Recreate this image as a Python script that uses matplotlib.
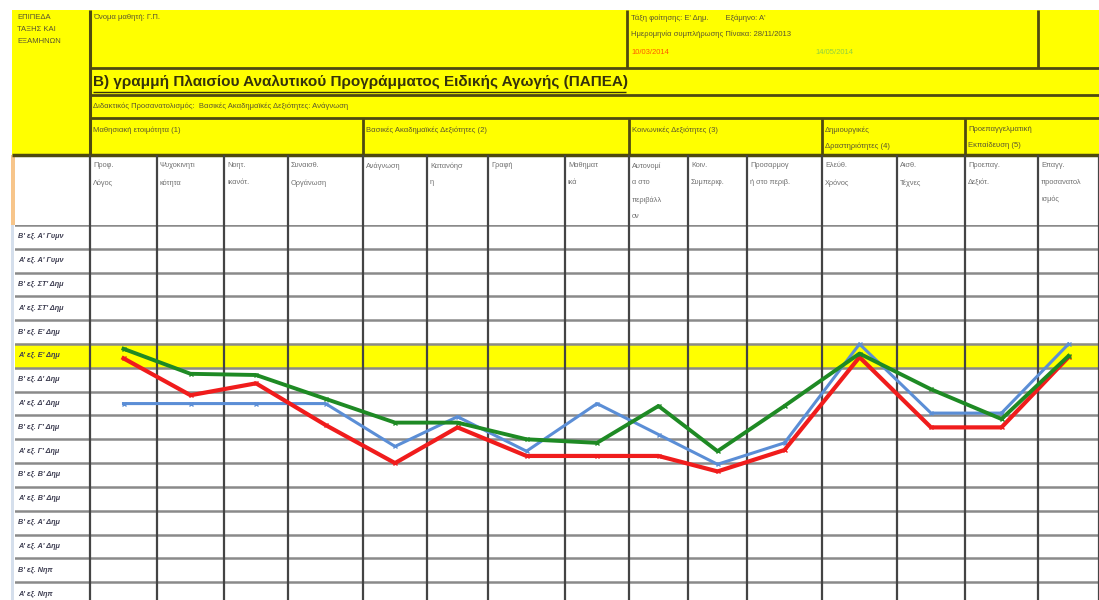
import matplotlib.pyplot as plt
from matplotlib.patches import Rectangle

plt.rcParams['font.family'] = ['Liberation Sans', 'DejaVu Sans']

# στήλες (δεξιότητες) και επίπεδα
στηλες = ["Προφ.\nΛόγος", "Ψυχοκινητι\nκότητα", "Νοητ.\nικανότ.", "Συναισθ.\nΟργάνωση",
          "Ανάγνωση", "Κατανόησ\nη", "Γραφή", "Μαθηματ\nικά",
          "Αυτονομί\nα στο\nπεριβάλλ\nον", "Κοιν.\nΣυμπεριφ.", "Προσαρμογ\nή στο περιβ.",
          "Ελεύθ.\nΧρόνος", "Αισθ.\nΤέχνες", "Προεπαγ.\nΔεξιότ.", "Επαγγ.\nπροσανατολ\nισμός"]

επιπεδα = ["Α' εξ. Νηπ", "Β' εξ. Νηπ", "Α' εξ. Α' Δημ", "Β' εξ. Α' Δημ",
           "Α' εξ. Β' Δημ", "Β' εξ. Β' Δημ", "Α' εξ. Γ' Δημ", "Β' εξ. Γ' Δημ",
           "Α' εξ. Δ' Δημ", "Β' εξ. Δ' Δημ", "Α' εξ. Ε' Δημ", "Β' εξ. Ε' Δημ",
           "Α' εξ. ΣΤ' Δημ", "Β' εξ. ΣΤ' Δημ", "Α' εξ. Α' Γυμν", "Β' εξ. Α' Γυμν"]

ομαδες = ["Μαθησιακή ετοιμότητα (1)", "Βασικές Ακαδημαϊκές Δεξιότητες (2)",
          "Κοινωνικές Δεξιότητες (3)", "Δημιουργικές\nΔραστηριότητες (4)",
          "Προεπαγγελματική\nΕκπαίδευση (5)"]

ημερομηνιες = ["28/11/2013", "10/03/2014", "14/05/2014"]

# επίπεδο ανά στήλη για κάθε αξιολόγηση
τιμες_1 = [8, 8, 8, 8, 6.2, 7.45, 6.0, 8.0, 6.7, 5.45, 6.35, 10.5, 7.6, 7.6, 10.5]
τιμες_2 = [9.9, 8.35, 8.85, 7.1, 5.5, 7.0, 5.8, 5.8, 5.8, 5.15, 6.05, 9.95, 7.0, 7.0, 9.95]
τιμες_3 = [10.3, 9.25, 9.2, 8.2, 7.2, 7.2, 6.5, 6.35, 7.9, 6.0, 7.9, 10.1, 8.6, 7.35, 10.0]

ακρες = [90, 157, 224, 288, 363, 427, 488, 565, 629, 688, 747, 822, 897, 965, 1038, 1099]
κεντρα = [(a + b) / 2 for a, b in zip(ακρες[:-1], ακρες[1:])]
ομαδες_x = [90, 363, 629, 822, 965]

κιτρινο = '#ffff00'
περιγραμμα = '#4f4a10'
κειμενο = '#5a5530'

fig = plt.figure(figsize=(10.99, 6), dpi=100)
ax = fig.add_axes([0, 0, 1, 1])
ax.set_xlim(0, 1099)
ax.set_ylim(600, 0)
ax.axis('off')

# κεφαλίδα
ax.add_patch(Rectangle((12, 10), 1087, 145, fc=κιτρινο, ec='none'))
ax.add_patch(Rectangle((12, 155), 1087, 70, fc='white', ec='none'))
ax.add_patch(Rectangle((11, 155), 4, 70, fc='#f7c58a', ec='none'))
ax.add_patch(Rectangle((11, 225), 3, 375, fc='#d5dfec', ec='none'))

ax.vlines(90, 10, 155, color=περιγραμμα, lw=2.2)
ax.hlines([68, 95, 118], 90, 1099, color=περιγραμμα, lw=2)
ax.hlines(155, 12, 1099, color=περιγραμμα, lw=2.5)
ax.vlines([627, 1038], 10, 68, color=περιγραμμα, lw=2)
ax.vlines(ομαδες_x[1:], 118, 155, color=περιγραμμα, lw=2)
ax.vlines(ακρες, 155, 225, color='#444444', lw=1.6)

ax.text(17, 14, "ΕΠΙΠΕΔΑ\nΤΑΞΗΣ ΚΑΙ\nΕΞΑΜΗΝΩΝ", fontsize=5.5, color=κειμενο, va='top', linespacing=2.0)
ax.text(93, 14, "Όνομα μαθητή: Γ.Π.", fontsize=5.5, color=κειμενο, va='top')
ax.text(631, 14, "Τάξη φοίτησης: Ε' Δημ.        Εξάμηνο: Α'", fontsize=5.5, color=κειμενο, va='top')
ax.text(631, 31, "Ημερομηνία συμπλήρωσης Πίνακα: " + ημερομηνιες[0], fontsize=5.5, color=κειμενο, va='top')
ax.text(631, 49, ημερομηνιες[1], fontsize=5.5, color='#ff5a00', va='top')
ax.text(815, 49, ημερομηνιες[2], fontsize=5.5, color='#8fd040', va='top')

ax.text(93, 82, "Β) γραμμή Πλαισίου Αναλυτικού Προγράμματος Ειδικής Αγωγής (ΠΑΠΕΑ)",
        fontsize=11, fontweight='bold', color='#35320c', va='center')
ax.hlines(91.5, 93, 626, color='#35320c', lw=1)
ax.text(93, 106, "Διδακτικός Προσανατολισμός:  Βασικές Ακαδημαϊκές Δεξιότητες: Ανάγνωση",
        fontsize=5.5, color=κειμενο, va='center')

for x, t in zip(ομαδες_x, ομαδες):
    ax.text(x + 3, 126, t, fontsize=5.5, color=κειμενο, va='top', linespacing=2.6)

for x, t in zip(ακρες[:-1], στηλες):
    ax.text(x + 3, 162, t, fontsize=5.3, color='#707070', va='top', linespacing=2.9)

# πλέγμα με τα επίπεδα
ax2 = fig.add_axes([15 / 1099, 0, 1084 / 1099, 375 / 600])
ax2.set_xlim(15, 1099)
ax2.set_ylim(-0.25, 15.5)
ax2.axis('off')

ax2.axhspan(9.5, 10.5, color=κιτρινο, zorder=0)
for i in range(-1, 16):
    ax2.axhline(i + 0.5, color='#8a8a8a', lw=1.8, zorder=1)
ax2.vlines(ακρες, -1, 15.5, color='#444444', lw=1.6, zorder=1)

for i, t in enumerate(επιπεδα):
    ax2.text(18, i, t, fontsize=5.2, color='#3c3c50', style='italic', fontweight='bold', va='center')

ax2.plot(κεντρα, τιμες_1, color='#5b8ed6', lw=2.2, marker='x', ms=3, mew=1, zorder=3)
ax2.plot(κεντρα, τιμες_2, color='#f01c1c', lw=3, marker='x', ms=3, mew=1, zorder=4)
ax2.plot(κεντρα, τιμες_3, color='#1e8a24', lw=2.8, marker='x', ms=3, mew=1, zorder=5)

plt.savefig("out.png", dpi=100)
